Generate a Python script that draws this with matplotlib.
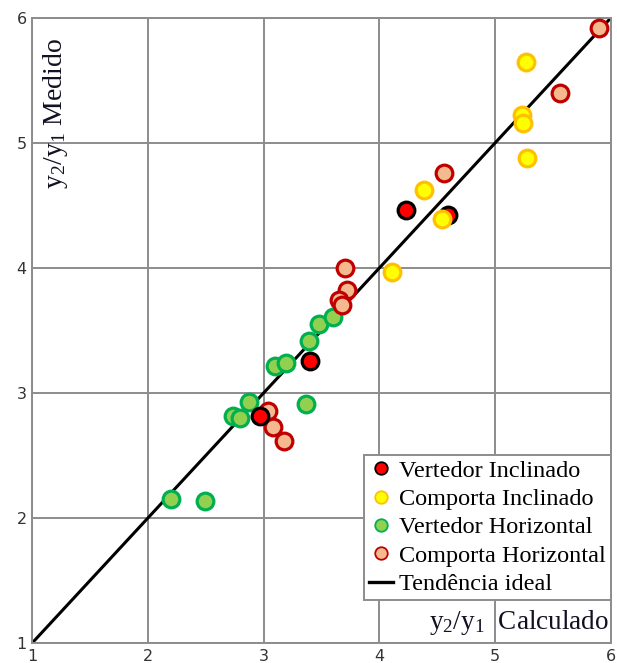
import matplotlib
matplotlib.use("Agg")
import matplotlib.pyplot as plt
from matplotlib.lines import Line2D

plt.rcParams['mathtext.fontset'] = 'custom'
plt.rcParams['mathtext.rm'] = 'Liberation Serif'
plt.rcParams['mathtext.it'] = 'Liberation Serif'

# Calculated vs measured conjugate depth ratio y2/y1
vert_incl_x = [2.97, 3.40, 4.23, 4.59]
vert_incl_y = [2.82, 3.26, 4.46, 4.42]

comp_incl_x = [4.11, 4.39, 4.54, 5.27, 5.23, 5.24, 5.28]
comp_incl_y = [3.97, 4.62, 4.39, 5.65, 5.22, 5.16, 4.88]

vert_hor_x = [2.20, 2.49, 2.74, 2.80, 2.87, 3.10, 3.19, 3.37, 3.39, 3.48, 3.60]
vert_hor_y = [2.15, 2.14, 2.82, 2.80, 2.93, 3.22, 3.24, 2.91, 3.42, 3.55, 3.61]

comp_hor_x = [3.04, 3.08, 3.18, 3.70, 3.72, 3.65, 3.68, 4.56, 5.56, 5.90]
comp_hor_y = [2.86, 2.73, 2.62, 4.00, 3.82, 3.74, 3.70, 4.76, 5.40, 5.92]

ideal = [1, 6]
ticks = [1, 2, 3, 4, 5, 6]

fig = plt.figure(figsize=(6.17, 6.63), dpi=100)
ax = fig.add_axes([0.052, 0.030, 0.938, 0.943])

ax.plot(ideal, ideal, color='black', lw=2.2, zorder=2)

series = [
    (vert_hor_x, vert_hor_y, '#92d050', '#00b050'),
    (comp_hor_x, comp_hor_y, '#f4b98e', '#c00000'),
    (vert_incl_x, vert_incl_y, '#ff0000', '#000000'),
    (comp_incl_x, comp_incl_y, '#ffff00', '#ffc000'),
]
for xs, ys, fc, ec in series:
    ax.plot(xs, ys, ls='none', marker='o', ms=12, mfc=fc, mec=ec,
            mew=2.3, zorder=3)

ax.set_xlim(1, 6)
ax.set_ylim(1, 6)
ax.set_xticks(ticks)
ax.set_yticks(ticks)
ax.grid(True, color='#8c8c8c', lw=1.4, zorder=0)
ax.set_axisbelow(True)
for s in ax.spines.values():
    s.set_color('#8c8c8c')
    s.set_linewidth(1.4)
ax.tick_params(length=0, labelsize=11.5, labelcolor='#333333', pad=4)

serif = 'Liberation Serif'
ax.text(0.040, 0.968, r'$\mathrm{y_2/y_1}$ Medido', transform=ax.transAxes,
        rotation=90, ha='center', va='top', fontsize=20, family=serif,
        color='#111122')
ax.text(0.997, 0.010, r'$\mathrm{y_2/y_1}$  Calculado', transform=ax.transAxes,
        ha='right', va='bottom', fontsize=19.5, family=serif, color='#111122')

handles = [
    Line2D([], [], ls='none', marker='o', ms=9, mfc='#ff0000', mec='#000000', mew=1.3),
    Line2D([], [], ls='none', marker='o', ms=9, mfc='#ffff00', mec='#ffc000', mew=1.3),
    Line2D([], [], ls='none', marker='o', ms=9, mfc='#92d050', mec='#00b050', mew=1.3),
    Line2D([], [], ls='none', marker='o', ms=9, mfc='#f4b98e', mec='#c00000', mew=1.3),
    Line2D([], [], color='black', lw=2.4),
]
labels = ['Vertedor Inclinado', 'Comporta Inclinado', 'Vertedor Horizontal',
          'Comporta Horizontal', 'Tendência ideal']
leg = ax.legend(handles, labels, loc='lower right', bbox_to_anchor=(1.0, 0.069),
                prop={'family': serif, 'size': 17.5}, frameon=True, fancybox=False,
                edgecolor='#8c8c8c', framealpha=1, borderpad=0.2,
                labelspacing=0.26, handlelength=1.0, handletextpad=0.25,
                borderaxespad=0.0)
leg.get_frame().set_linewidth(1.4)

fig.savefig('out.png', dpi=100)
